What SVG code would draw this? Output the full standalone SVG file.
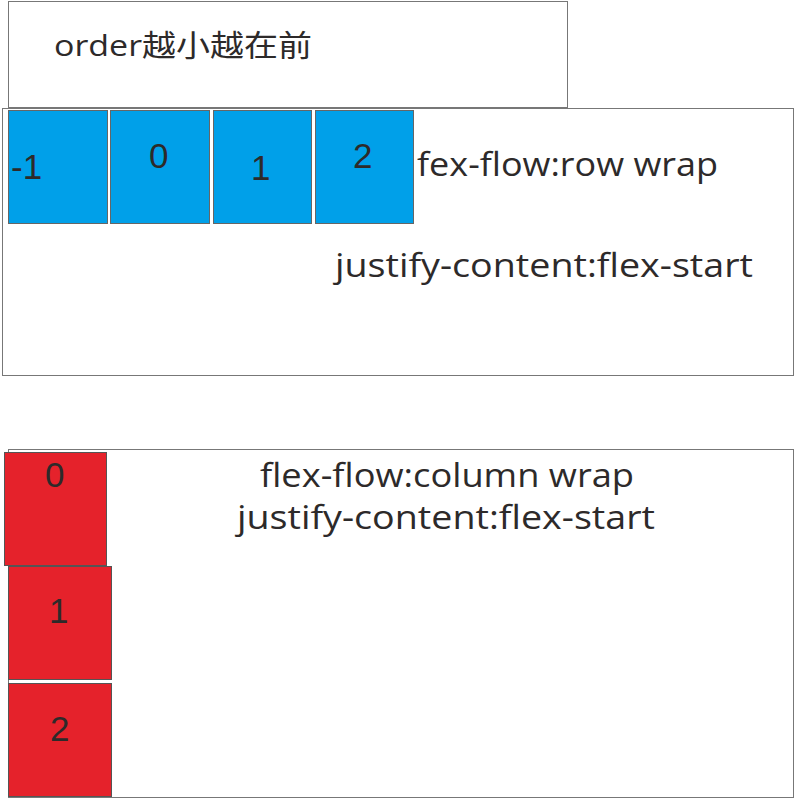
<svg xmlns="http://www.w3.org/2000/svg" width="794" height="798" viewBox="0 0 794 798">
<style>
.frame{fill:#fff;stroke:#777;stroke-width:1}
.blue{fill:#00a0e9;stroke:#666;stroke-width:1}
.red{fill:#e5222b;stroke:#555;stroke-width:1}
.t{font-family:"Open Sans","Noto Sans","Noto Sans CJK SC",sans-serif;fill:#2d2a2a}
.lbl{font-size:32px}
.num{font-family:"Liberation Sans",Arial,sans-serif;fill:#2d2a2a;font-size:35px}
</style>
<rect width="794" height="798" fill="#fff"/>
<g id="title">
<rect class="frame" x="8.5" y="1.5" width="559" height="106"/>
<text class="t" x="54" y="56" font-size="30" textLength="258" lengthAdjust="spacingAndGlyphs">order越小越在前</text>
</g>
<g id="row-container">
<rect class="frame" x="2.5" y="108.5" width="791" height="267"/>
<text class="t lbl" x="417" y="176" textLength="301" lengthAdjust="spacingAndGlyphs">fex-flow:row wrap</text>
<text class="t lbl" x="335" y="277" textLength="418" lengthAdjust="spacingAndGlyphs">justify-content:flex-start</text>
</g>
<g id="item-m1"><rect class="blue" x="8.5" y="110.5" width="99" height="113"/><text class="num" x="11" y="179" font-size="30">-1</text></g>
<g id="item-0"><rect class="blue" x="110.5" y="110.5" width="99" height="113"/><text class="num" x="149" y="168">0</text></g>
<g id="item-1"><rect class="blue" x="213.5" y="110.5" width="98" height="113"/><text class="num" x="251" y="180">1</text></g>
<g id="item-2"><rect class="blue" x="315.5" y="110.5" width="98" height="113"/><text class="num" x="353" y="168">2</text></g>
<g id="column-container">
<rect class="frame" x="8.5" y="449.5" width="785" height="348"/>
<text class="t lbl" x="260" y="487" textLength="374" lengthAdjust="spacingAndGlyphs">flex-flow:column wrap</text>
<text class="t lbl" x="237" y="529" textLength="418" lengthAdjust="spacingAndGlyphs">justify-content:flex-start</text>
</g>
<g id="col-item-0"><rect class="red" x="4.5" y="452.5" width="102" height="113"/><text class="num" x="45" y="487">0</text></g>
<g id="col-item-1"><rect class="red" x="8.5" y="566.5" width="103" height="113"/><text class="num" x="49" y="623">1</text></g>
<g id="col-item-2"><rect class="red" x="8.5" y="683.5" width="103" height="113"/><text class="num" x="50" y="741">2</text></g>
<g id="connectors"/>
</svg>
